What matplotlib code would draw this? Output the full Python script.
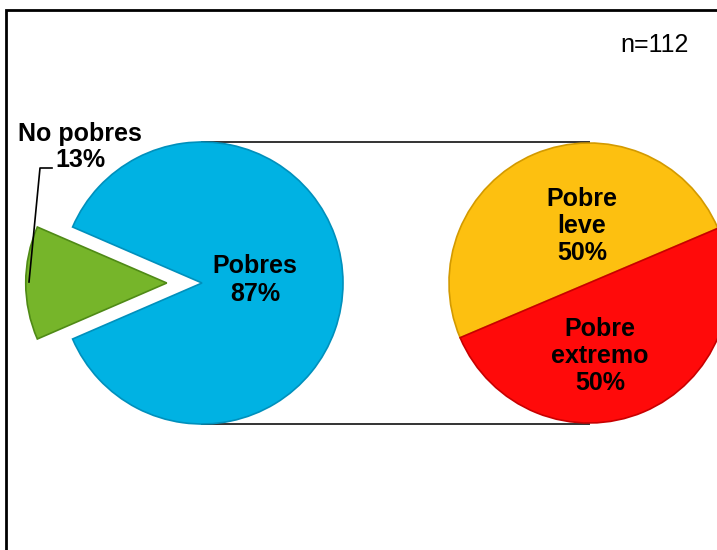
import matplotlib
matplotlib.use("Agg")
import matplotlib.pyplot as plt

# ---- data ----
main_labels = ["Pobres", "No pobres"]
main_values = [87, 13]
sub_labels = ["Pobre\nleve", "Pobre\nextremo"]
sub_values = [50, 50]
sample_text = "n=112"

main_colors = ["#00B2E3", "#76B52A"]
sub_colors = ["#FDC010", "#FF0A0A"]
edge_main = ["#0090BC", "#4F8A16"]
edge_sub = ["#D39A00", "#C80000"]

W, H = 717, 550
fig = plt.figure(figsize=(W / 100, H / 100), dpi=100)
ax = fig.add_axes([0, 0, 1, 1])

FONT = "Liberation Sans"

def Y(y):
    return H - y

# left pie (pie of pie: main)
c1 = (202, Y(283))
r1 = 141
green_angle = main_values[1] / sum(main_values) * 360
start1 = 180 + green_angle / 2
w1, _ = ax.pie(main_values, center=c1, radius=r1, startangle=start1,
               colors=main_colors, explode=[0, 0.25 * r1],
               wedgeprops=dict(linewidth=1.2), frame=True)
for w, ec in zip(w1, edge_main):
    w.set_edgecolor(ec)
    w.set_zorder(3)

# right pie (breakdown of Pobres)
c2 = (589, Y(283))
r2 = 140
w2, _ = ax.pie(sub_values, center=c2, radius=r2, startangle=23,
               colors=sub_colors, wedgeprops=dict(linewidth=1.2), frame=True)
for w, ec in zip(w2, edge_sub):
    w.set_edgecolor(ec)
    w.set_zorder(3)

# connector lines
ax.plot([c1[0], c2[0]], [c1[1] + r1, c2[1] + r2 + 1], color="#333333", lw=1.4, zorder=2)
ax.plot([c1[0], c2[0]], [c1[1] - r1, c2[1] - r2 - 1], color="#333333", lw=1.4, zorder=2)

# labels
tk = dict(fontfamily=FONT, fontweight="bold", fontsize=18, ha="center", va="center",
          color="black", zorder=5)
ax.text(255, Y(280), f"{main_labels[0]}\n{main_values[0]}%", linespacing=1.25, **tk)
ax.text(80, Y(147), f"{main_labels[1]}\n{main_values[1]}%", linespacing=1.15, **tk)
ax.text(582, Y(226), f"{sub_labels[0]}\n{sub_values[0]}%", linespacing=1.15, **tk)
ax.text(600, Y(356), f"{sub_labels[1]}\n{sub_values[1]}%", linespacing=1.15, **tk)

# leader line for No pobres
ax.plot([52, 40, 29], [Y(168), Y(168), Y(282)], color="black", lw=1.2, zorder=6)

# sample size
ax.text(655, Y(45), sample_text, fontfamily=FONT, fontsize=18, ha="center",
        va="center", color="black")

# frame
ax.plot([6, 6, W + 5], [-5, Y(10), Y(10)], color="black", lw=2, zorder=7,
        solid_joinstyle="miter")

ax.set_xlim(0, W)
ax.set_ylim(0, H)
ax.set_aspect("equal")
ax.axis("off")

fig.savefig("out.png", dpi=100)
